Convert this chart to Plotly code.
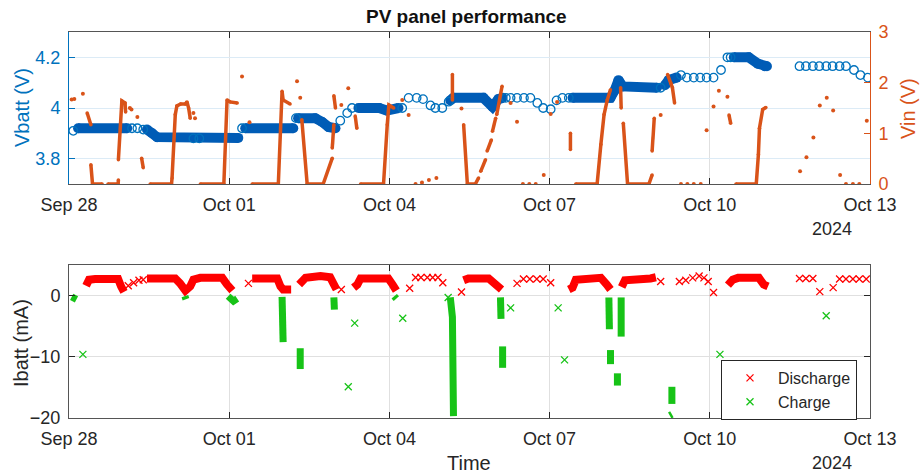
import pandas as pd
import plotly.graph_objects as go

# ---------------------------------------------------------------------------
# Logged data (time in days after 2024-09-28 00:00). None splits a polyline.
# ---------------------------------------------------------------------------

# Battery voltage: isolated samples (open rings)
vbatt_ring_day = [0.08, 1.18, 1.28, 1.39, 2.33, 2.44, 3.24, 4.25, 5.08, 5.21, 5.30,
                  6.24, 6.36, 6.51, 6.63, 6.77, 6.86, 6.99, 7.11,
                  8.18, 8.27, 8.39, 8.52, 8.64, 8.77, 8.88, 9.02, 9.13, 9.24, 9.36,
                  11.08, 11.46, 11.57, 11.70, 11.82, 11.94, 12.07, 12.21, 12.33, 12.39,
                  13.68, 13.80, 13.93, 14.05, 14.18, 14.30, 14.43, 14.55, 14.70, 14.82, 14.96]
vbatt_ring_v = [3.91, 3.92, 3.92, 3.915, 3.88, 3.88, 3.92, 3.96, 3.95, 3.98, 4.0,
                4.0, 4.04, 4.04, 4.035, 4.01, 4.0, 4.0, 4.025,
                4.04, 4.04, 4.04, 4.04, 4.04, 4.02, 4.0, 3.995, 4.03, 4.04, 4.04,
                4.08, 4.13, 4.12, 4.12, 4.12, 4.12, 4.12, 4.15, 4.2, 4.2,
                4.165, 4.165, 4.165, 4.165, 4.165, 4.165, 4.165, 4.165, 4.15, 4.13, 4.12]

# Battery voltage: densely logged stretches (overlapping rings form a band)
vbatt_band_day = [0.17, 1.09, None,
                  1.46, 1.56, 1.65, 3.17, None,
                  3.30, 4.20, None,
                  4.29, 4.61, 4.74, 4.86, 4.99, None,
                  5.42, 5.81, 5.95, 6.17, None,
                  7.14, 7.20, 7.76, 7.93, 8.04, 8.12, None,
                  9.43, 10.14, 10.22, 10.29, 10.37, 11.01, None,
                  11.16, 11.23, 11.38, None,
                  12.45, 12.73, 12.90, 13.03, 13.07]
vbatt_band_v = [3.92, 3.92, None,
                3.915, 3.90, 3.885, 3.882, None,
                3.92, 3.92, None,
                3.96, 3.96, 3.945, 3.925, 3.92, None,
                4.0, 4.0, 3.99, 4.0, None,
                4.03, 4.04, 4.04, 4.005, 4.035, 4.04, None,
                4.04, 4.04, 4.07, 4.11, 4.085, 4.08, None,
                4.09, 4.11, 4.12, None,
                4.2, 4.2, 4.175, 4.165, 4.165]

# Panel input voltage: dense runs
vin_line_day = [0.34, 0.41, None,
                0.41, 0.44, 0.62, None,
                0.73, 0.92, 0.925, None,
                0.925, 0.99, 1.05, 1.06, None,
                1.36, 1.39, None,
                1.52, 1.92, 1.93, 1.99, 2.02, 2.09, 2.18, 2.21, 2.24, 2.27, None,
                2.46, 2.90, 2.96, 3.02, 3.15, None,
                3.43, 3.92, 3.99, 4.01, 4.14, None,
                4.36, 4.46, 4.76, 4.93, None,
                4.93, 4.96, None,
                4.96, 4.99, None,
                5.36, 5.39, None,
                5.46, 5.89, 5.96, 5.99, 6.08, None,
                7.18, 7.18, None,
                7.39, 7.46, 7.61, 7.67, None,
                7.71, 7.80, None,
                7.83, 7.91, None,
                7.93, 7.99, None,
                8.01, 8.11, None,
                9.39, 9.39, None,
                9.49, 9.89, 9.96, 10.02, 10.08, 10.14, None,
                10.33, 10.34, None,
                10.38, 10.46, 10.86, 10.92, None,
                10.92, 10.96, None,
                11.21, 11.27, 11.30, 11.34, None,
                12.36, 12.39, None,
                12.49, 12.87, 12.91, 12.93, 12.99, 13.05]
vin_line_v = [1.40, 1.17, None,
              0.38, 0.0, 0.0, None,
              0.0, 0.0, 0.08, None,
              0.48, 1.64, 1.60, 1.42, None,
              0.51, 0.32, None,
              0.0, 0.0, 0.12, 1.37, 1.54, 1.58, 1.58, 1.62, 1.50, 1.30, None,
              0.0, 0.0, 1.66, 1.62, 1.60, None,
              0.0, 0.0, 1.83, 1.66, 1.58, None,
              1.27, 0.0, 0.0, 0.51, None,
              0.71, 1.17, None,
              1.74, 1.50, None,
              1.34, 1.10, None,
              0.0, 0.0, 1.17, 1.56, 1.50, None,
              2.16, 1.66, None,
              1.17, 0.0, 0.0, 0.12, None,
              0.25, 0.48, None,
              0.65, 0.87, None,
              1.04, 1.30, None,
              1.37, 1.93, None,
              0.68, 1.0, None,
              0.0, 0.0, 0.78, 1.37, 1.66, 1.86, None,
              1.9, 1.5, None,
              1.2, 0.0, 0.0, 0.18, None,
              0.65, 1.3, None,
              2.16, 1.99, 1.9, 1.6, None,
              1.36, 1.2, None,
              0.0, 0.0, 0.58, 1.1, 1.47, 1.51]

# Panel input voltage: isolated samples
vin_dot_day = [0.05, 0.10, 0.26, 1.14, 1.17, 1.28, 2.33, 2.36, 3.24, 3.38, 4.27, 4.33,
               5.10, 5.23, 6.24, 6.36, 6.49, 6.61, 6.74, 6.88, 7.35,
               8.27, 8.39, 8.50, 8.62, 8.74, 8.89, 9.02, 9.14, 11.08,
               11.46, 11.58, 11.70, 11.83, 11.94, 12.07, 12.17, 12.33,
               13.69, 13.81, 13.94, 14.06, 14.19, 14.31, 14.44, 14.55, 14.68, 14.80, 14.94]
vin_dot_v = [1.67, 1.68, 1.78, 1.50, 1.47, 1.32, 1.40, 1.30, 2.12, 1.22, 2.03, 1.70,
             1.56, 1.89, 1.66, 1.36, 0.0, 0.03, 0.08, 0.12, 1.49,
             1.6, 1.23, 0.0, 0.0, 0.0, 0.18, 1.38, 1.62, 1.36,
             0.0, 0.0, 0.0, 0.0, 1.06, 1.53, 1.84, 1.72,
             0.25, 0.53, 0.92, 1.55, 1.70, 1.45, 0.18, 0.0, 0.0, 0.0, 1.25]

# Battery current, discharging (> 0): dense runs
dis_band_day = [0.32, 0.375, 0.49, 0.92, 0.975, 1.03, None,
                1.46, 1.99, 2.08, 2.18, 2.27, 2.33, 2.46, 2.87, 2.96, 3.06, None,
                3.43, 3.90, 3.96, 4.01, 4.16, None,
                4.31, 4.43, 4.71, 4.89, 4.95, 5.01, None,
                5.33, 5.40, 5.46, 5.98, 6.06, 6.13, None,
                7.39, 7.48, 7.86, 7.99, 8.10, None,
                9.36, 9.43, 9.49, 9.96, 10.07, 10.14, None,
                10.35, 10.41, 10.89, 10.99, None,
                12.34, 12.43, 12.53, 12.92, 13.01, 13.09]
dis_band_ma = [1.6, 2.6, 2.7, 2.7, 1.5, 0.6, None,
               2.8, 2.8, 2.0, 0.8, 1.5, 2.6, 2.9, 2.9, 1.8, 0.8, None,
               2.8, 2.8, 1.5, 1.0, 1.0, None,
               1.8, 2.9, 3.2, 3.0, 2.0, 1.0, None,
               1.3, 1.8, 2.8, 2.8, 1.8, 0.8, None,
               2.5, 2.8, 2.8, 1.8, 1.0, None,
               1.0, 1.3, 2.6, 2.9, 1.8, 1.0, None,
               1.4, 2.5, 2.8, 3.0, None,
               1.7, 2.6, 2.9, 2.9, 1.8, 1.5]

# Battery current, discharging: isolated samples
dis_day = [1.11, 1.21, 1.31, 1.39, 3.36, 5.10,
           6.38, 6.49, 6.59, 6.71, 6.81, 6.91, 7.00, 7.35,
           8.39, 8.51, 8.63, 8.76, 8.88, 9.02,
           11.08, 11.43, 11.55, 11.68, 11.80, 11.89, 11.97, 12.07,
           13.68, 13.80, 13.93, 14.06, 14.31, 14.43, 14.55, 14.68, 14.80, 14.93]
dis_ma = [1.6, 2.1, 2.5, 2.6, 2.0, 1.0,
          1.2, 2.95, 2.95, 2.95, 2.95, 2.95, 2.1, 0.6,
          2.0, 2.7, 2.7, 2.7, 2.7, 2.1,
          2.3, 2.3, 2.5, 2.9, 3.2, 2.9, 2.3, 0.5,
          2.8, 2.8, 2.8, 0.65, 1.3, 2.7, 2.7, 2.7, 2.7, 2.7]

# Battery current, charging (<= 0): dense runs
chg_band_day = [0.05, 0.14, None,
                2.17, 2.19, None,
                2.98, 3.08, 3.15, None,
                3.99, 4.01, None,
                4.33, 4.33, None,
                4.96, 4.97, None,
                6.09, 6.13, None,
                7.14, 7.18, 7.20, None,
                8.08, 8.09, None,
                8.12, 8.12, None,
                10.11, 10.12, None,
                10.14, 10.14, None,
                10.27, 10.27, None,
                10.34, 10.34, None,
                11.29, 11.29, None,
                11.25, 11.29]
chg_band_ma = [-0.2, -0.6, None,
               -0.1, -0.6, None,
               -0.1, -0.9, -0.5, None,
               -0.2, -7.6, None,
               -8.6, -12.0, None,
               -0.3, -2.3, None,
               -0.1, -0.5, None,
               -0.3, -3.5, -19.7, None,
               -0.3, -3.8, None,
               -8.3, -11.8, None,
               -0.3, -5.5, None,
               -8.9, -11.2, None,
               -12.7, -14.7, None,
               -0.3, -6.7, None,
               -14.9, -17.7, None,
               -19.6, -19.4]

# Battery current, charging: isolated samples
chg_day = [0.26, 5.23, 5.35, 6.25, 7.10, 8.27, 9.16, 9.28, 12.19, 14.18]
chg_ma = [-9.6, -14.9, -4.5, -3.7, -0.3, -2.0, -2.0, -10.5, -9.6, -3.3]

# Axis ticks
x_tick_days = [0, 3, 6, 9, 12, 15]
x_tick_text = ["Sep 28", "Oct 01", "Oct 04", "Oct 07", "Oct 10", "Oct 13"]

# ---------------------------------------------------------------------------
T0 = pd.Timestamp("2024-09-28")


def to_time(days):
    return [None if d is None else T0 + pd.Timedelta(days=d) for d in days]


BLUE = "#0072BD"
BLUE_DENSE = "#005CB6"
ORANGE = "#D95319"
RED = "#FF0000"
GREEN = "#17C317"
DARK = "#262626"
FONT = "Liberation Sans, Arial, sans-serif"

fig = go.Figure()

# --- top panel: Vbatt (left axis) ---
fig.add_trace(go.Scatter(
    x=to_time(vbatt_band_day), y=vbatt_band_v, mode="lines+markers",
    line=dict(color=BLUE_DENSE, width=10),
    marker=dict(symbol="circle", size=10, color=BLUE_DENSE),
    connectgaps=False, showlegend=False, xaxis="x", yaxis="y"))
fig.add_trace(go.Scatter(
    x=to_time(vbatt_ring_day), y=vbatt_ring_v, mode="markers",
    marker=dict(symbol="circle-open", size=8.5, color=BLUE, line=dict(width=1.3)),
    showlegend=False, xaxis="x", yaxis="y"))

# --- top panel: Vin (right axis) ---
fig.add_trace(go.Scatter(
    x=to_time(vin_line_day), y=vin_line_v, mode="lines+markers",
    line=dict(color=ORANGE, width=3.5),
    marker=dict(symbol="circle", size=3.5, color=ORANGE),
    connectgaps=False, showlegend=False, xaxis="x", yaxis="y2"))
fig.add_trace(go.Scatter(
    x=to_time(vin_dot_day), y=vin_dot_v, mode="markers",
    marker=dict(symbol="circle", size=4, color=ORANGE),
    showlegend=False, xaxis="x", yaxis="y2"))

# --- bottom panel: Ibatt ---
fig.add_trace(go.Scatter(
    x=to_time(dis_band_day), y=dis_band_ma, mode="lines",
    line=dict(color=RED, width=8), connectgaps=False,
    legendgroup="dis", showlegend=False, xaxis="x2", yaxis="y3"))
fig.add_trace(go.Scatter(
    x=to_time(dis_day), y=dis_ma, mode="markers", name="Discharge",
    marker=dict(symbol="x-thin", size=7, line=dict(color=RED, width=1.3), color=RED),
    legendgroup="dis", showlegend=True, xaxis="x2", yaxis="y3"))
fig.add_trace(go.Scatter(
    x=to_time(chg_band_day), y=chg_band_ma, mode="lines",
    line=dict(color=GREEN, width=7), connectgaps=False,
    legendgroup="chg", showlegend=False, xaxis="x2", yaxis="y3"))
fig.add_trace(go.Scatter(
    x=to_time(chg_day), y=chg_ma, mode="markers", name="Charge",
    marker=dict(symbol="x-thin", size=7, line=dict(color=GREEN, width=1.3), color=GREEN),
    legendgroup="chg", showlegend=True, xaxis="x2", yaxis="y3"))

W, H = 921, 475
x_dom = [69 / W, 870 / W]
top_dom = [1 - 184 / H, 1 - 32 / H]
bot_dom = [1 - 418 / H, 1 - 265 / H]
x_range = [T0, T0 + pd.Timedelta(days=15)]

common_x = dict(
    range=x_range, tickvals=to_time(x_tick_days), ticktext=x_tick_text,
    ticks="inside", ticklen=6, tickcolor=DARK, showline=True, linecolor="#555555",
    linewidth=1, mirror="ticks", showgrid=True, gridcolor="#E0E0E0", gridwidth=1,
    tickfont=dict(family=FONT, size=18, color=DARK), ticklabelstandoff=4,
    zeroline=False, domain=x_dom, automargin=False,
)

fig.update_layout(
    width=W, height=H, margin=dict(l=0, r=0, t=0, b=0, autoexpand=False),
    paper_bgcolor="white", plot_bgcolor="white",
    font=dict(family=FONT, color=DARK),
    xaxis=dict(anchor="y", **common_x),
    xaxis2=dict(anchor="y3", **common_x),
    yaxis=dict(
        domain=top_dom, range=[3.7, 4.3], tickvals=[3.8, 4.0, 4.2],
        ticktext=["3.8", "4", "4.2"], ticks="inside", ticklen=6, tickcolor=BLUE,
        showline=True, linecolor=BLUE, linewidth=1, showgrid=True,
        gridcolor="#DCEBF6", zeroline=False, anchor="x", automargin=False,
        tickfont=dict(family=FONT, size=18, color=BLUE), ticklabelstandoff=4,
    ),
    yaxis2=dict(
        overlaying="y", side="right", anchor="x", range=[0, 3],
        tickvals=[0, 1, 2, 3], ticks="inside", ticklen=6, tickcolor=ORANGE,
        showline=True, linecolor=ORANGE, linewidth=1, showgrid=False, zeroline=False,
        tickfont=dict(family=FONT, size=18, color=ORANGE), ticklabelstandoff=4,
        automargin=False,
    ),
    yaxis3=dict(
        domain=bot_dom, range=[-20, 5], tickvals=[-20, -10, 0], anchor="x2",
        ticks="inside", ticklen=6, tickcolor=DARK, showline=True,
        linecolor="#555555", linewidth=1, mirror="ticks", showgrid=True,
        gridcolor="#E0E0E0", zeroline=False, automargin=False,
        tickfont=dict(family=FONT, size=18, color=DARK), ticklabelstandoff=4,
    ),
    legend=dict(
        x=721 / W, y=1 - 360 / H, xanchor="left", yanchor="top",
        bgcolor="white", bordercolor=DARK, borderwidth=1,
        font=dict(family=FONT, size=16, color=DARK), itemwidth=46,
        tracegroupgap=0,
    ),
)


def px_note(text, x, y, size, color=DARK, angle=0, bold=False):
    fig.add_annotation(
        text=f"<b>{text}</b>" if bold else text, x=x / W, y=1 - y / H,
        xref="paper", yref="paper", showarrow=False, textangle=angle,
        xanchor="center", yanchor="middle",
        font=dict(family=FONT, size=size, color=color))


px_note("PV panel performance", 466, 17, 19, color="#111111", bold=True)
px_note("Vbatt (V)", 22, 108, 20, color=BLUE, angle=-90)
px_note("Vin (V)", 908, 109, 20, color=ORANGE, angle=-90)
px_note("Ibatt (mA)", 21, 343, 20, angle=-90)
px_note("Time", 469, 463, 20)
px_note("2024", 832, 229, 18)
px_note("2024", 832, 463, 18)

fig.write_html("out.html")
